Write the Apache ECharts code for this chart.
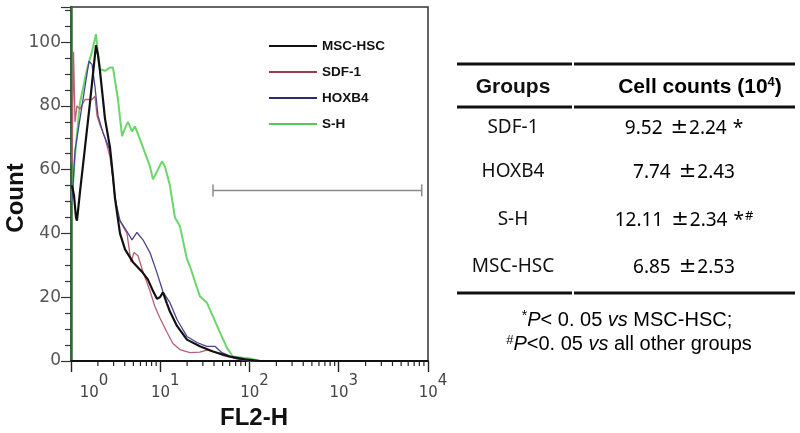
<!DOCTYPE html>
<html><head><meta charset="utf-8">
<script src="https://cdn.jsdelivr.net/npm/echarts@6/dist/echarts.min.js"></script>
<style>html,body{margin:0;padding:0;background:#fff}#c{width:800px;height:433px}</style>
</head><body><div id="c"></div>
<script>
// ---- Histogram data (FL2-H on log scale, Count) ----
const mscX = [1.026,1.08,1.137,1.167,1.261,1.435,1.632,1.764,1.905,2.006,2.112,2.282,2.403,2.734,2.953,3.11,3.54,4.03,4.95,6.24,7.28,8.28,9.18,9.92,10.72,11.89,12.84,15.4,19.9,27.8,38.9,60.3,88.8,131,10000];
const mscY = [55,52,45,44,53,67,81,90,99,96,91,82,76,67,58,51,40,35,31,28,25.5,22,19.5,20,21.5,18,15.5,11,6.7,4.6,3,1.4,0.5,0,0];

const sdfX = [1.026,1.067,1.109,1.167,1.261,1.435,1.719,1.857,1.955,2.112,2.403,2.734,2.953,3.36,4.24,4.70,5.08,5.63,6.40,7.67,8.72,9.92,11.89,13.87,16.6,21.5,27.8,33.3,38.9,49.1,68.6,101,10000];
const sdfY = [62,97,75,80,79,82,82,83,77,74,70,64,57,45,40,31,34,33,28,22,17,13.5,9,5.5,3.6,2.6,2.8,3.4,3,1.8,0.8,0,0];

const hoxX = [1.026,1.109,1.261,1.435,1.591,1.719,1.857,2.006,2.282,2.734,3.11,3.54,4.24,4.82,5.48,6.40,7.67,9.18,10.72,12.84,15.4,19.9,25.8,33.3,41.0,49.1,68.6,101,10000];
const hoxY = [50,66,76,86,94,93,86,77,71.6,66,51,44,40.6,38,40.3,38,34,27.7,21.7,18.3,13,7.7,5.8,4.6,4.6,2.6,0.8,0,0];

const shX = [1.026,1.08,1.137,1.261,1.511,1.719,1.905,2.006,2.112,2.403,2.734,2.953,3.36,3.73,4.03,4.35,4.82,5.21,5.93,7.67,8.28,9.42,10.45,11.29,12.84,14.6,16.6,19.9,21.5,27.8,33.3,38.9,46.6,55.8,65.2,84.4,101,131,10000];
const shY = [50,60,68,81,91.5,97,102.5,96,91.5,91,92,92,82,70.5,73,75,72,73.6,69.5,61,57,60,62.6,61,55,45,42.3,32,29.7,20.3,18.3,14,9,4.2,1.4,1,0.8,0,0];

// gate marker: [from, to, level]
const gate = [39, 8500, 53.5];

// log-axis minor tick positions
const minorTicks = [2,3,4,5,6,7,8,9,20,30,40,50,60,70,80,90,200,300,400,500,600,700,800,900,2000,3000,4000,5000,6000,7000,8000,9000];

// ---- Table data ----
const groups = ['SDF-1','HOXB4','S-H','MSC-HSC'];
const means = ['9.52','7.74','12.11','6.85'];
const sds = ['2.24','2.43','2.34','2.53'];
const star = ['*','','*',''];
const hash = ['','','#',''];

const zip = (xs, ys) => xs.map((x, i) => [x, ys[i]]);

const chart = echarts.init(document.getElementById('c'), null, {renderer: 'canvas'});

const rowY = [128, 172, 220, 267];

const rule = (y) => [
  {type:'line', shape:{x1:457, y1:y, x2:572, y2:y}, style:{stroke:'#111', lineWidth:3}},
  {type:'line', shape:{x1:574, y1:y, x2:795, y2:y}, style:{stroke:'#111', lineWidth:3}}
];

const bodyRich = {
  n: {font: '19px "Noto Sans"', color: '#111', verticalAlign: 'bottom'},
  pm: {font: '21px "DejaVu Sans"', color: '#111', padding: [0, 1, 0, 3], verticalAlign: 'bottom'},
  st: {font: '19px "Noto Sans"', color: '#111', verticalAlign: 'bottom', padding: [0, 0, 0, 6]},
  hs: {font: '13px "Noto Sans"', color: '#111', verticalAlign: 'bottom', padding: [0, 0, 8, 1]}
};

const option = {
  animation: false,
  backgroundColor: '#fff',
  grid: {left: 71, right: 372, top: 7, bottom: 72, show: true, borderColor: '#333', borderWidth: 1.5, backgroundColor: 'transparent'},
  legend: {
    data: ['MSC-HSC','SDF-1','HOXB4','S-H'],
    orient: 'vertical', left: 264, top: 34,
    itemWidth: 48, itemHeight: 14, itemGap: 12,
    icon: 'path://M0,6 L48,6 L48,8 L0,8 Z',
    textStyle: {fontFamily: '"Liberation Sans", Arial', fontWeight: 'bold', fontSize: 13.5, color: '#111'}
  },
  xAxis: {
    type: 'log', logBase: 10, min: 1, max: 10000,
    axisLine: {show: true, lineStyle: {color: '#111', width: 2}},
    axisTick: {show: true, inside: false, length: 11, lineStyle: {color: '#222', width: 1.4}},
    minorTick: {show: false},
    splitLine: {show: false},
    axisLabel: {
      margin: 13, color: '#444',
      formatter: (v, idx) => {
        const e = Math.round(Math.log10(v));
        return (idx === 0 ? '{b0|10}' : '{b|10}') + '{s|' + e + '}';
      },
      rich: {
        b: {fontFamily: '"DejaVu Sans"', fontSize: 15, color: '#444', padding: [0,0,0,10], verticalAlign: 'bottom'},
        b0: {fontFamily: '"DejaVu Sans"', fontSize: 15, color: '#444', padding: [0,0,0,46], verticalAlign: 'bottom'},
        s: {fontFamily: '"DejaVu Sans"', fontSize: 15, color: '#444', padding: [0,0,12,0], verticalAlign: 'bottom'}
      }
    }
  },
  yAxis: {
    type: 'value', min: 0, max: 111, interval: 20,
    axisLine: {show: true, lineStyle: {color: '#2e6a2e', width: 2.5}},
    axisTick: {show: true, inside: false, length: 10, lineStyle: {color: '#333', width: 1.2}},
    minorTick: {show: true, splitNumber: 4, length: 6, lineStyle: {color: '#333', width: 1.2}},
    splitLine: {show: false},
    axisLabel: {margin: 10, color: '#555', fontFamily: '"DejaVu Sans"', fontSize: 17, showMaxLabel: false,
      formatter: v => (v > 100 ? '' : String(v))}
  },
  series: [
    {name: 'SDF-1', type: 'line', data: zip(sdfX, sdfY), symbol: 'none', lineStyle: {color: '#b85f70', width: 1.3}, itemStyle: {color: '#9b3b4b'}, z: 3},
    {name: 'HOXB4', type: 'line', data: zip(hoxX, hoxY), symbol: 'none', lineStyle: {color: '#4a4490', width: 1.3}, itemStyle: {color: '#2b2b6b'}, z: 3},
    {name: 'S-H', type: 'line', data: zip(shX, shY), symbol: 'none', lineStyle: {color: '#6bd66b', width: 2}, itemStyle: {color: '#55c855'}, z: 2},
    {name: 'MSC-HSC', type: 'line', data: zip(mscX, mscY), symbol: 'none', lineStyle: {color: '#111', width: 2.2}, itemStyle: {color: '#111'}, z: 4},
    {name: 'ticks', type: 'custom', clip: false, silent: true, data: minorTicks.map(v => [v, 0]),
      renderItem: (params, api) => {
        const p = api.coord([api.value(0), 0]);
        return {type: 'line', shape: {x1: p[0], y1: p[1], x2: p[0], y2: p[1] + 5}, style: {stroke: '#222', lineWidth: 1.2}};
      }, z: 5},
    {name: 'gate', type: 'custom', clip: false, silent: true, data: [gate],
      renderItem: (params, api) => {
        const a = api.coord([api.value(0), api.value(2)]);
        const b = api.coord([api.value(1), api.value(2)]);
        return {type: 'group', children: [
          {type: 'line', shape: {x1: a[0], y1: a[1], x2: b[0], y2: b[1]}, style: {stroke: '#8a8a8a', lineWidth: 1.5}},
          {type: 'line', shape: {x1: a[0], y1: a[1] - 6, x2: a[0], y2: a[1] + 6}, style: {stroke: '#8a8a8a', lineWidth: 1.5}},
          {type: 'line', shape: {x1: b[0], y1: b[1] - 6, x2: b[0], y2: b[1] + 6}, style: {stroke: '#8a8a8a', lineWidth: 1.5}}
        ]};
      }, z: 1}
  ],
  graphic: [
    {type: 'text', x: 16, y: 198, rotation: Math.PI / 2,
      style: {text: 'Count', x: 0, y: 0, align: 'center', verticalAlign: 'middle', font: 'bold 24px "Liberation Sans", Arial', fill: '#111'}},
    {type: 'text', x: 254, y: 418,
      style: {text: 'FL2-H', x: 0, y: 0, align: 'center', verticalAlign: 'middle', font: 'bold 24px "Liberation Sans", Arial', fill: '#111'}},
    ...rule(64), ...rule(107), ...rule(293),
    {type: 'text', x: 513, y: 87,
      style: {text: 'Groups', x: 0, y: 0, align: 'center', verticalAlign: 'middle', font: 'bold 21px "Liberation Sans", Arial', fill: '#111'}},
    {type: 'text', x: 700, y: 87,
      style: {text: '{h|Cell counts (10}{hs|4}{h|)}', x: 0, y: 0, align: 'center', verticalAlign: 'middle',
        rich: {h: {font: 'bold 21px "Liberation Sans", Arial', color: '#111', verticalAlign: 'bottom'},
               hs: {font: 'bold 13px "Liberation Sans", Arial', color: '#111', padding: [0,0,9,0], verticalAlign: 'bottom'}}}},
    ...groups.map((g, i) => ({type: 'text', x: 513, y: rowY[i],
      style: {text: g, x: 0, y: 0, align: 'center', verticalAlign: 'middle', font: '19px "Noto Sans"', fill: '#111'}})),
    ...groups.map((g, i) => ({type: 'text', x: 684, y: rowY[i],
      style: {text: '{n|' + means[i] + ' }{pm|±}{n|' + sds[i] + '}' + (star[i] ? '{st|' + star[i] + '}' : '') + (hash[i] ? '{hs|' + hash[i] + '}' : ''),
        x: 0, y: 0, align: 'center', verticalAlign: 'middle', rich: bodyRich}})),
    {type: 'text', x: 627, y: 320,
      style: {text: '{sp|*}{i|P}{n|< 0. 05 }{i|vs}{n| MSC-HSC;}', x: 0, y: 0, align: 'center', verticalAlign: 'middle',
        rich: {n: {font: '20px "Liberation Sans", Arial', color: '#111', verticalAlign: 'bottom'},
               i: {font: 'italic 20px "Liberation Sans", Arial', color: '#111', verticalAlign: 'bottom'},
               sp: {font: '14px "Liberation Sans", Arial', color: '#111', padding: [0,0,7,0], verticalAlign: 'bottom'}}}},
    {type: 'text', x: 629, y: 344,
      style: {text: '{sp|#}{i|P}{n|<0. 05 }{i|vs}{n| all other groups}', x: 0, y: 0, align: 'center', verticalAlign: 'middle',
        rich: {n: {font: '20px "Liberation Sans", Arial', color: '#111', verticalAlign: 'bottom'},
               i: {font: 'italic 20px "Liberation Sans", Arial', color: '#111', verticalAlign: 'bottom'},
               sp: {font: '13px "Liberation Sans", Arial', color: '#111', padding: [0,0,7,0], verticalAlign: 'bottom'}}}}
  ]
};
chart.setOption(option);
</script></body></html>
